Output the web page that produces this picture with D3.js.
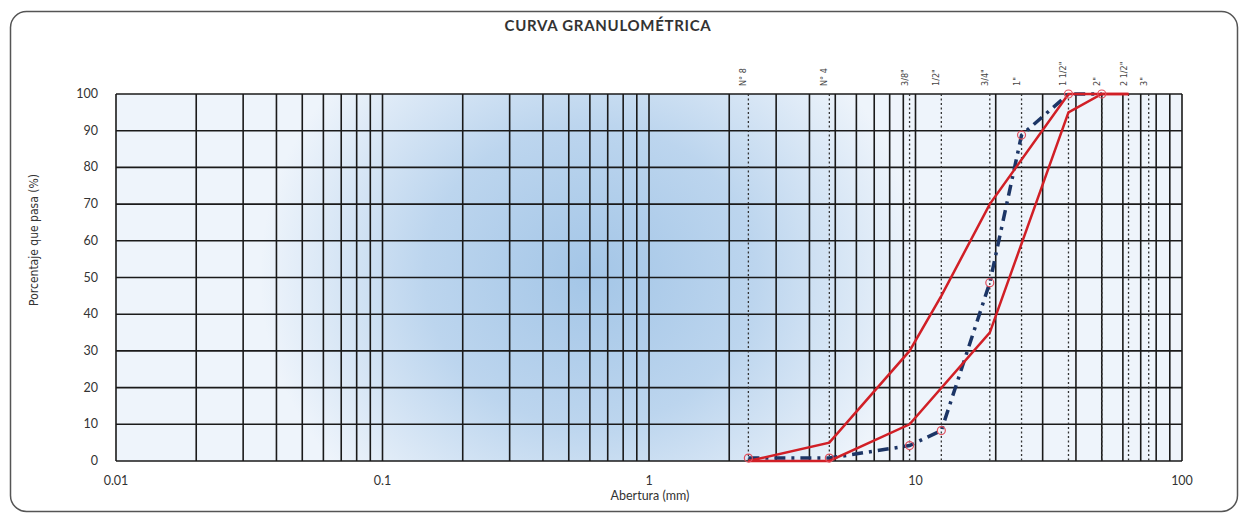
<!DOCTYPE html>
<html>
<head>
<meta charset="utf-8">
<script src="https://cdn.jsdelivr.net/npm/d3@7"></script>
<style>
    body { margin: 0; background: #fff; }
    svg { display: block; font-family: Lato, "Open Sans", sans-serif; }
</style>
</head>
<body>
<div id="chart"></div>
<script>
// data
const sieveNames = ['N° 8', 'N° 4', '3/8"', '1/2"', '3/4"', '1"', '1 1/2"', '2"', '2 1/2"', '3"'];
const sieveSizes = [2.36, 4.75, 9.5, 12.5, 19, 25, 37.5, 50, 63, 75];

const upperSizes = [2.36, 4.75, 9.5, 12.5, 19, 37.5, 50, 63];
const upperPass = [0, 5, 30, 45, 70, 100, 100, 100];

const lowerSizes = [2.36, 4.75, 9.5, 19, 37.5, 50, 63];
const lowerPass = [0, 0, 10, 35, 95, 100, 100];

const sampleSizes = [2.36, 4.75, 9.5, 12.5, 19, 25, 37.5, 50];
const samplePass = [0.8, 0.8, 4.2, 8.3, 48.6, 88.8, 100, 100];

const yTicks = [0, 10, 20, 30, 40, 50, 60, 70, 80, 90, 100];
const xTicks = [0.01, 0.1, 1, 10, 100];

// app
const W = 1245;
const H = 513;
const M = { left: 116, right: 1182, top: 94, bottom: 461 };
const RED = '#d11f26';
const NAVY = '#1c3566';
const GRID = '#1a1a1a';

const svg = d3.select('#chart')
    .append('svg')
    .attr('width', W)
    .attr('height', H);

const x = d3.scaleLog().domain([0.01, 100]).range([M.left, M.right]);
const y = d3.scaleLinear().domain([0, 100]).range([M.bottom, M.top]);

// background gradient (soft blue spot in the middle)
const defs = svg.append('defs');
const grad = defs.append('radialGradient')
    .attr('id', 'bg')
    .attr('gradientUnits', 'userSpaceOnUse')
    .attr('cx', 590)
    .attr('cy', 275)
    .attr('r', 300)
    .attr('gradientTransform', 'translate(590,275) scale(1.1,1) translate(-590,-275)');
grad.append('stop').attr('offset', 0).attr('stop-color', '#a4c6e7');
grad.append('stop').attr('offset', 0.5).attr('stop-color', '#bcd5ee');
grad.append('stop').attr('offset', 1).attr('stop-color', '#eef4fb');

// outer frame
svg.append('rect')
    .attr('x', 10.5)
    .attr('y', 11.5)
    .attr('width', 1227)
    .attr('height', 500)
    .attr('rx', 16)
    .attr('fill', '#fff')
    .attr('stroke', '#555')
    .attr('stroke-width', 1.5);

svg.append('text')
    .attr('x', 608)
    .attr('y', 31)
    .attr('text-anchor', 'middle')
    .attr('font-size', 15)
    .attr('font-weight', 'bold')
    .attr('letter-spacing', 0.7)
    .attr('fill', '#333')
    .text('CURVA GRANULOMÉTRICA');

svg.append('rect')
    .attr('x', M.left)
    .attr('y', M.top)
    .attr('width', M.right - M.left)
    .attr('height', M.bottom - M.top)
    .attr('fill', 'url(#bg)');

// vertical grid: 1..9 of every decade
const minorX = [];
[0.01, 0.1, 1, 10].forEach((dec) => {
    for (let i = 1; i <= 9; i += 1) minorX.push(dec * i);
});
minorX.push(100);

svg.append('g')
    .selectAll('line')
    .data(minorX)
    .enter()
    .append('line')
    .attr('x1', d => x(d))
    .attr('x2', d => x(d))
    .attr('y1', M.top)
    .attr('y2', M.bottom)
    .attr('stroke', GRID)
    .attr('stroke-width', 1.6);

svg.append('g')
    .selectAll('line')
    .data(yTicks)
    .enter()
    .append('line')
    .attr('x1', M.left)
    .attr('x2', M.right)
    .attr('y1', d => y(d))
    .attr('y2', d => y(d))
    .attr('stroke', GRID)
    .attr('stroke-width', 1.6);

// sieve lines
svg.append('g')
    .selectAll('line')
    .data(sieveSizes)
    .enter()
    .append('line')
    .attr('x1', d => x(d))
    .attr('x2', d => x(d))
    .attr('y1', M.top)
    .attr('y2', M.bottom)
    .attr('stroke', '#333')
    .attr('stroke-width', 1.3)
    .attr('stroke-dasharray', '2,2.5');

svg.append('g')
    .selectAll('text')
    .data(sieveNames)
    .enter()
    .append('text')
    .attr('transform', (d, i) => `translate(${x(sieveSizes[i]) - 2},86) rotate(-90)`)
    .attr('font-size', 9)
    .attr('fill', '#444')
    .attr('font-family', '"Liberation Sans Narrow", "DejaVu Sans Condensed", sans-serif')
    .text(d => d);

// axes labels
svg.append('g')
    .selectAll('text')
    .data(yTicks)
    .enter()
    .append('text')
    .attr('x', 98)
    .attr('y', d => y(d) + 4)
    .attr('text-anchor', 'end')
    .attr('font-size', 12.5)
    .attr('fill', '#333')
    .text(d => d);

svg.append('g')
    .selectAll('text')
    .data(xTicks)
    .enter()
    .append('text')
    .attr('x', d => x(d))
    .attr('y', 485)
    .attr('text-anchor', 'middle')
    .attr('font-size', 12.5)
    .attr('fill', '#333')
    .text(d => d);

svg.append('text')
    .attr('x', 650)
    .attr('y', 500)
    .attr('text-anchor', 'middle')
    .attr('font-size', 12.5)
    .attr('fill', '#333')
    .text('Abertura (mm)');

svg.append('text')
    .attr('transform', 'translate(38,240) rotate(-90)')
    .attr('text-anchor', 'middle')
    .attr('font-size', 12)
    .attr('fill', '#333')
    .attr('font-family', '"Liberation Sans Narrow", "DejaVu Sans Condensed", sans-serif')
    .text('Porcentaje que pasa (%)');

// curves
const line = d3.line()
    .x(d => x(d[0]))
    .y(d => y(d[1]));

svg.append('path')
    .attr('d', line(sampleSizes.map((s, i) => [s, samplePass[i]])))
    .attr('fill', 'none')
    .attr('stroke', NAVY)
    .attr('stroke-width', 3.5)
    .attr('stroke-dasharray', '11,6,3,6');

svg.append('path')
    .attr('d', line(upperSizes.map((s, i) => [s, upperPass[i]])))
    .attr('fill', 'none')
    .attr('stroke', RED)
    .attr('stroke-width', 2.5);

svg.append('path')
    .attr('d', line(lowerSizes.map((s, i) => [s, lowerPass[i]])))
    .attr('fill', 'none')
    .attr('stroke', RED)
    .attr('stroke-width', 2.5);

svg.append('g')
    .selectAll('circle')
    .data(sampleSizes)
    .enter()
    .append('circle')
    .attr('cx', d => x(d))
    .attr('cy', (d, i) => y(samplePass[i]))
    .attr('r', 4)
    .attr('fill', 'none')
    .attr('stroke', '#e0505e')
    .attr('stroke-width', 1.2);
</script>
</body>
</html>
